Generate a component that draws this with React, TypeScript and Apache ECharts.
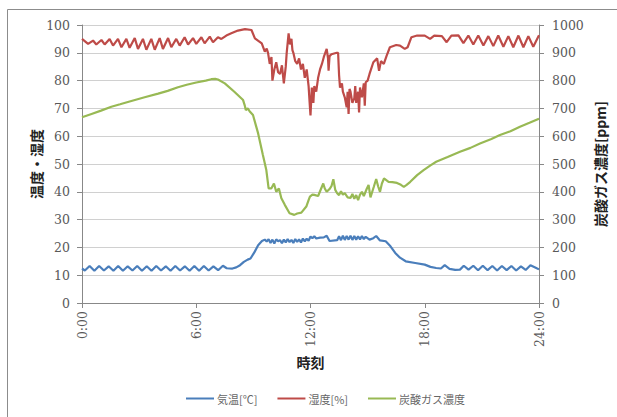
import React, { useEffect, useRef } from "react";
import * as echarts from "echarts";

// ---- data (hours, values) ----
const tempTime = [
  0.0, 0.15, 0.4, 0.65, 0.9, 1.15, 1.4, 1.65, 1.9, 2.15, 2.4, 2.65, 2.9, 3.15, 3.4, 3.65, 3.9, 4.15, 4.4, 4.65,
  4.9, 5.15, 5.4, 5.65, 5.9, 6.15, 6.4, 6.65, 6.9, 7.15, 7.4, 7.6, 7.9, 8.1, 8.3, 8.5, 8.7, 8.85, 9.05, 9.25,
  9.45, 9.6, 9.7, 9.8, 9.9, 10.0, 10.1, 10.2, 10.3, 10.4, 10.5, 10.6, 10.7, 10.8, 10.9, 11.0, 11.1, 11.2, 11.3, 11.4,
  11.5, 11.6, 11.7, 11.8, 11.9, 12.0, 12.1, 12.2, 12.3, 12.5, 12.7, 12.85, 13.0, 13.4, 13.5, 13.6, 13.7, 13.8, 13.9, 14.0,
  14.1, 14.2, 14.3, 14.4, 14.5, 14.6, 14.7, 14.8, 14.9, 15.1, 15.3, 15.45, 15.65, 15.95, 16.2, 16.45, 16.7, 17.0, 17.5, 18.0,
  18.3, 18.6, 18.85, 19.05, 19.3, 19.6, 19.85, 20.05, 20.3, 20.55, 20.8, 21.05, 21.3, 21.55, 21.8, 22.05, 22.3, 22.55, 22.8, 23.05,
  23.3, 23.55, 23.8, 24.0,
];
const tempVal = [
  12.4, 11.7, 13.3, 11.6, 13.3, 11.7, 13.2, 11.6, 13.3, 11.6, 13.2, 11.7, 13.3, 11.6, 13.2, 11.6, 13.3, 11.7, 13.2, 11.6,
  13.3, 11.7, 13.2, 11.6, 13.3, 11.6, 13.3, 11.7, 13.2, 11.8, 13.4, 12.5, 12.4, 12.8, 13.6, 14.8, 15.6, 16.0, 18.2, 20.8,
  22.3, 22.8, 22.1, 22.9, 21.6, 22.8, 21.4, 22.9, 22.2, 22.6, 21.5, 22.8, 21.8, 23.0, 21.9, 22.7, 21.6, 23.0, 22.0, 22.9,
  21.8, 23.2, 22.2, 23.1, 22.4, 23.9, 23.3, 24.0, 23.2, 23.5, 23.6, 24.2, 22.3, 22.6, 24.0, 22.6, 24.2, 22.7, 24.1, 22.8,
  24.2, 22.7, 24.1, 22.8, 24.0, 22.9, 24.1, 23.0, 23.8, 22.8, 23.3, 24.1, 22.5, 22.2, 20.4, 18.0, 16.3, 15.0, 14.4, 13.8,
  13.0, 12.6, 12.4, 13.6, 12.3, 11.9, 12.0, 13.4, 12.0, 13.4, 11.8, 13.4, 11.8, 13.3, 11.7, 13.3, 11.8, 13.3, 11.7, 13.2,
  11.9, 13.6, 12.8, 12.1,
];

const humTime = [
  0.0, 0.32, 0.58, 0.75, 1.02, 1.19, 1.45, 1.63, 1.89, 2.07, 2.33, 2.5, 2.77, 2.94, 3.2, 3.38, 3.64, 3.82, 4.08, 4.25,
  4.52, 4.69, 4.95, 5.13, 5.39, 5.57, 5.83, 6.0, 6.27, 6.44, 6.71, 6.88, 7.14, 7.32, 7.58, 7.84, 8.19, 8.56, 8.9, 9.08,
  9.44, 9.6, 9.7, 9.77, 9.86, 9.95, 10.0, 10.1, 10.2, 10.3, 10.4, 10.5, 10.6, 10.7, 10.75, 10.85, 10.92, 11.0, 11.05, 11.1,
  11.2, 11.3, 11.4, 11.5, 11.6, 11.7, 11.8, 11.9, 11.97, 12.0, 12.07, 12.15, 12.2, 12.3, 12.4, 12.5, 12.6, 12.7, 12.85, 12.92,
  12.95, 13.0, 13.1, 13.38, 13.45, 13.5, 13.55, 13.65, 13.7, 13.8, 13.9, 13.95, 14.0, 14.05, 14.1, 14.2, 14.3, 14.35, 14.4, 14.5,
  14.55, 14.6, 14.7, 14.8, 14.85, 14.9, 15.0, 15.1, 15.3, 15.5, 15.6, 15.7, 15.85, 16.0, 16.17, 16.5, 16.7, 16.95, 17.1, 17.3,
  17.6, 18.0, 18.28, 18.5, 18.9, 19.15, 19.4, 19.77, 20.03, 20.29, 20.55, 20.81, 21.08, 21.34, 21.6, 21.86, 22.13, 22.39, 22.65, 22.92,
  23.18, 23.44, 23.7, 24.0,
];
const humVal = [
  95.0, 93.2, 94.4, 93.0, 94.6, 93.0, 95.0, 92.6, 95.0, 92.0, 95.0, 91.8, 95.3, 91.4, 95.0, 91.1, 95.0, 91.1, 95.3, 91.4,
  95.3, 92.0, 95.0, 92.6, 95.6, 93.0, 95.3, 93.2, 95.6, 93.4, 95.8, 93.8, 95.6, 95.0, 96.2, 97.0, 98.0, 98.5, 98.2, 95.2,
  93.4, 90.4, 91.5, 90.0, 86.0, 88.5, 80.0, 84.0, 86.6, 83.0, 82.4, 85.5, 79.0, 85.0, 90.0, 97.0, 93.0, 95.0, 91.0, 90.0,
  87.0, 86.0, 88.0, 84.0, 86.0, 81.0, 84.0, 78.0, 70.4, 67.5, 77.5, 72.0, 78.0, 76.0, 81.0, 84.0, 86.0, 88.5, 91.4, 88.0,
  83.6, 88.8, 89.5, 90.0, 90.0, 82.0, 77.5, 79.0, 76.0, 74.0, 70.4, 76.0, 68.0, 77.0, 76.0, 72.0, 73.6, 78.0, 72.0, 76.0,
  68.5, 77.5, 74.0, 79.0, 71.0, 79.4, 80.0, 82.4, 86.6, 88.0, 83.5, 87.0, 86.0, 89.0, 92.0, 92.8, 92.6, 91.4, 92.0, 95.6,
  96.2, 96.2, 95.0, 96.2, 96.0, 93.8, 96.2, 96.3, 93.5, 96.2, 93.0, 96.2, 92.6, 96.0, 92.4, 96.2, 92.2, 96.0, 92.0, 96.2,
  92.0, 96.0, 92.2, 96.3,
];

const co2Time = [
  0.0, 0.5, 1.0, 1.54, 2.0, 2.5, 3.29, 4.0, 4.5, 5.04, 5.5, 6.0, 6.5, 6.79, 7.0, 7.14, 7.5, 8.0, 8.46, 8.55,
  8.6, 8.7, 8.8, 8.98, 9.25, 9.5, 9.68, 9.8, 9.94, 10.08, 10.2, 10.34, 10.47, 10.65, 10.9, 11.15, 11.3, 11.52, 11.78, 11.9,
  11.97, 12.1, 12.2, 12.4, 12.55, 12.67, 12.75, 12.85, 13.0, 13.1, 13.2, 13.3, 13.4, 13.5, 13.6, 13.7, 13.8, 13.95, 14.1, 14.2,
  14.3, 14.4, 14.5, 14.6, 14.7, 14.8, 14.95, 15.05, 15.15, 15.33, 15.45, 15.55, 15.65, 15.75, 15.86, 16.1, 16.3, 16.54, 16.75, 16.9,
  17.05, 17.24, 17.6, 17.94, 18.3, 18.6, 19.2, 19.85, 20.4, 20.9, 21.5, 21.95, 22.5, 23.0, 23.5, 24.0,
];
const co2Val = [
  668, 680, 692, 706, 715, 725, 740, 753, 763, 776, 785, 793, 800, 805, 806, 804, 790, 760, 730, 710,
  694, 700, 690, 676, 610, 532, 478, 412, 412, 430, 400, 412, 377, 353, 323, 317, 322, 325, 347, 370,
  383, 390, 389, 385, 410, 430, 412, 400, 410, 420, 445, 407, 395, 388, 402, 390, 395, 380, 378, 392,
  375, 388, 370, 390, 400, 385, 410, 425, 380, 419, 446, 420, 400, 430, 448, 436, 435, 432, 425, 418,
  425, 436, 460, 478, 495, 508, 525, 544, 558, 574, 590, 604, 618, 634, 648, 663,
];

const seriesNames = ["気温[℃]", "湿度[%]", "炭酸ガス濃度"];
const seriesColors = ["#4A7EBB", "#BE4B48", "#98B954"];
const xTicks = [0, 6, 12, 18, 24];

const zip = (t: number[], v: number[]) => t.map((x, i) => [x, v[i]]);

const serif = "DejaVu Serif";
const labelColor = "#595959";
const titleStyle = { fontFamily: "Noto Sans CJK JP", fontSize: 14, fontWeight: "bold", color: "#222" };

export default function App() {
  const ref = useRef<HTMLDivElement>(null);
  useEffect(() => {
    const chart = echarts.init(ref.current!, null, { renderer: "svg" });
    chart.setOption({
      animation: false,
      backgroundColor: "#ffffff",
      textStyle: { fontFamily: serif },
      grid: { left: 82, right: 78, top: 25, bottom: 114, containLabel: false, outerBoundsMode: "none" },
      graphic: [
        {
          type: "rect",
          shape: { x: 7.5, y: 9.5, width: 700, height: 500 },
          style: { fill: "none", stroke: "#8c8c8c", lineWidth: 1 },
          silent: true,
        },
      ],
      legend: {
        left: 181,
        top: 388,
        icon: "rect",
        itemWidth: 28,
        itemHeight: 2,
        itemGap: 20,
        data: seriesNames,
        textStyle: { fontFamily: "Noto Sans CJK JP", fontSize: 11, color: "#666", padding: [0, 0, 0, -2] },
      },
      xAxis: {
        type: "value",
        min: xTicks[0],
        max: xTicks[xTicks.length - 1],
        interval: 6,
        name: "時刻",
        nameLocation: "middle",
        nameGap: 52,
        nameMoveOverlap: false,
        nameTextStyle: titleStyle,
        axisLine: { show: true, lineStyle: { color: "#888888" } },
        axisTick: { show: true, length: 5, lineStyle: { color: "#888888" } },
        splitLine: { show: false },
        axisLabel: {
          rotate: 90,
          margin: 8,
          fontFamily: serif,
          fontSize: 12.5,
          color: labelColor,
          formatter: (v: number) => `${v}:00`,
        },
      },
      yAxis: [
        {
          type: "value",
          min: 0,
          max: 100,
          interval: 10,
          name: "温度・湿度",
          nameLocation: "middle",
          nameRotate: 90,
          nameGap: 39,
          nameMoveOverlap: false,
          nameTextStyle: titleStyle,
          axisLine: { show: true, lineStyle: { color: "#888888" } },
          axisTick: { show: true, length: 5, lineStyle: { color: "#888888" } },
          splitLine: { show: true, lineStyle: { color: "#D0D0D0", width: 1 } },
          axisLabel: { margin: 12, fontFamily: serif, fontSize: 12.5, color: labelColor, formatter: (v: number) => String(v) },
        },
        {
          type: "value",
          min: 0,
          max: 1000,
          interval: 100,
          name: "炭酸ガス濃度[ppm]",
          nameLocation: "middle",
          nameRotate: 90,
          nameGap: 54,
          nameMoveOverlap: false,
          nameTextStyle: titleStyle,
          axisLine: { show: true, lineStyle: { color: "#888888" } },
          axisTick: { show: true, length: 5, lineStyle: { color: "#888888" } },
          splitLine: { show: false },
          axisLabel: { margin: 13, fontFamily: serif, fontSize: 12.5, color: labelColor, formatter: (v: number) => String(v) },
        },
      ],
      series: [
        {
          name: seriesNames[0],
          type: "line",
          data: zip(tempTime, tempVal),
          yAxisIndex: 0,
          showSymbol: false,
          symbol: "none",
          lineStyle: { color: seriesColors[0], width: 2.2 },
          itemStyle: { color: seriesColors[0] },
        },
        {
          name: seriesNames[1],
          type: "line",
          data: zip(humTime, humVal),
          yAxisIndex: 0,
          showSymbol: false,
          symbol: "none",
          lineStyle: { color: seriesColors[1], width: 2.2 },
          itemStyle: { color: seriesColors[1] },
        },
        {
          name: seriesNames[2],
          type: "line",
          data: zip(co2Time, co2Val),
          yAxisIndex: 1,
          showSymbol: false,
          symbol: "none",
          lineStyle: { color: seriesColors[2], width: 2.2 },
          itemStyle: { color: seriesColors[2] },
        },
      ],
    });
    return () => chart.dispose();
  }, []);
  return (
    <div
      ref={ref}
      style={{ position: "absolute", left: 0, top: 0, width: 617, height: 417, background: "#fff" }}
    />
  );
}
